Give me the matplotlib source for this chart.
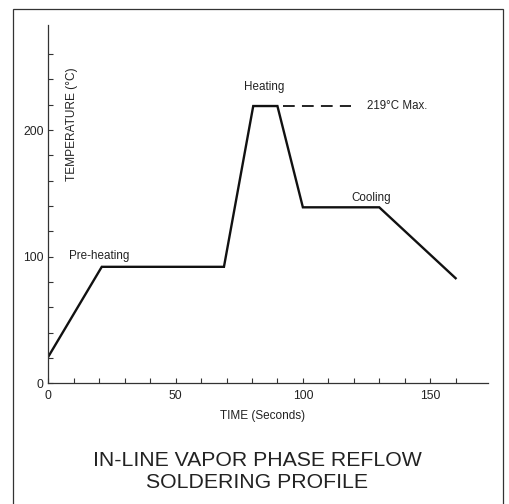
import matplotlib
matplotlib.use("Agg")
import matplotlib.pyplot as plt
from matplotlib.patches import Rectangle

plt.rcParams['font.family'] = ['Liberation Sans', 'DejaVu Sans']

# Data: reflow profile (time in s, temperature in °C)
time_s = [0, 21, 69, 80.5, 90, 100, 130, 160]
temp_c = [21, 92, 92, 219, 219, 139, 139, 83]

max_temp = 219
max_dash_x = [92, 119]

x_major = [0, 50, 100, 150]
x_minor = [10, 20, 30, 40, 60, 70, 80, 90, 110, 120, 130, 140, 160]
y_major = [0, 100, 200]
y_minor = [20, 40, 60, 80, 120, 140, 160, 180, 220, 240, 260]

phase_labels = ["Pre-heating", "Heating", "Cooling"]
phase_pos = [(8.25, 100.5), (84.8, 234), (127, 146.3)]
phase_ha = ["left", "center", "center"]

txt = "#222222"

fig = plt.figure(figsize=(5.1, 5.04), dpi=100)
ax = fig.add_axes([48.3/510, 1-383.3/504, (487.7-48.3)/510, (383.3-25)/504])

ax.plot(time_s, temp_c, color="#111111", lw=1.7, solid_joinstyle="miter")
ax.plot(max_dash_x, [max_temp, max_temp], color="#111111", lw=1.3, dashes=(6.5, 4))
ax.text(125.1, max_temp, "219°C Max.", fontsize=8.3, color=txt, ha="left", va="center")

for lab, (xx, yy), ha in zip(phase_labels, phase_pos, phase_ha):
    ax.text(xx, yy, lab, fontsize=8.4, color=txt, ha=ha, va="center")

ax.set_xlim(0, 172.6)
ax.set_ylim(0, 283)
for s in ["top", "right"]:
    ax.spines[s].set_visible(False)
for s in ["left", "bottom"]:
    ax.spines[s].set_color("#333333")
    ax.spines[s].set_linewidth(0.9)

ax.set_xticks(x_major)
ax.set_xticks(x_minor, minor=True)
ax.set_yticks(y_major)
ax.set_yticks(y_minor, minor=True)
ax.tick_params(which="both", direction="in", length=3.5, width=0.8, color="#333333",
               labelsize=8.7, labelcolor=txt)
ax.tick_params(axis="x", which="both", pad=5)
ax.tick_params(axis="y", which="both", pad=3.5)

ax.text(9.5, 204.7, "TEMPERATURE (°C)", rotation=90, fontsize=8.6, color=txt,
        ha="center", va="center")
ax.set_xlabel("TIME (Seconds)", fontsize=8.5, color=txt)
ax.xaxis.set_label_coords((262.5-48.3)/439.4, (383.3-409.5)/358.3)

fig.text(257.5/510, 1-460/504, "IN-LINE VAPOR PHASE REFLOW", fontsize=15.3, color=txt,
         ha="center", va="center")
fig.text(257.5/510, 1-483/504, "SOLDERING PROFILE", fontsize=15.3, color=txt,
         ha="center", va="center")

fig.patches.append(Rectangle((13/510, -0.02), (503.3-13)/510, 1.02-9/504,
                             transform=fig.transFigure, fill=False,
                             edgecolor="#333333", lw=0.9))

fig.savefig("out.png", dpi=100)
